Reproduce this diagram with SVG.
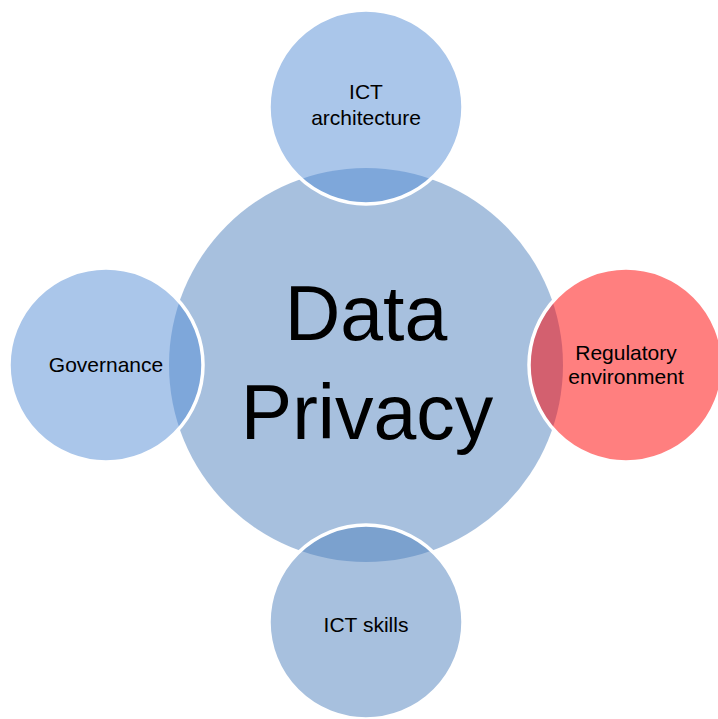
<svg xmlns="http://www.w3.org/2000/svg" width="718" height="719" viewBox="0 0 718 719">
<style>
.bg{fill:#ffffff}
.sat{stroke:#ffffff;stroke-width:3.5;fill-opacity:0.5}
.blue{fill:#558ED5}
.dark{fill:#4F81BD}
.red{fill:#FF0000}
.t{font-family:"Liberation Sans",Arial,sans-serif;fill:#000000;text-anchor:middle}
.s{font-size:21px}
.big{font-size:77px}
</style>
<rect class="bg" x="0" y="0" width="718" height="719"/>
<g id="connectors"></g>
<g id="node-center">
<circle cx="366" cy="365" r="197" fill="#4F81BD" fill-opacity="0.5"/>
<text class="t big" x="366" y="340">Data</text>
<text class="t big" x="367" y="439">Privacy</text>
</g>
<g id="node-ict-architecture">
<circle class="sat blue" cx="366" cy="107" r="97"/>
<text class="t s" x="366" y="99">ICT</text>
<text class="t s" x="366" y="125">architecture</text>
</g>
<g id="node-governance">
<circle class="sat blue" cx="106" cy="365" r="97"/>
<text class="t s" x="106" y="372">Governance</text>
</g>
<g id="node-regulatory">
<circle class="sat red" cx="626" cy="365" r="97"/>
<text class="t s" x="626" y="360">Regulatory</text>
<text class="t s" x="626" y="384">environment</text>
</g>
<g id="node-ict-skills">
<circle class="sat dark" cx="366" cy="622" r="97"/>
<text class="t s" x="366" y="632">ICT skills</text>
</g>
</svg>
